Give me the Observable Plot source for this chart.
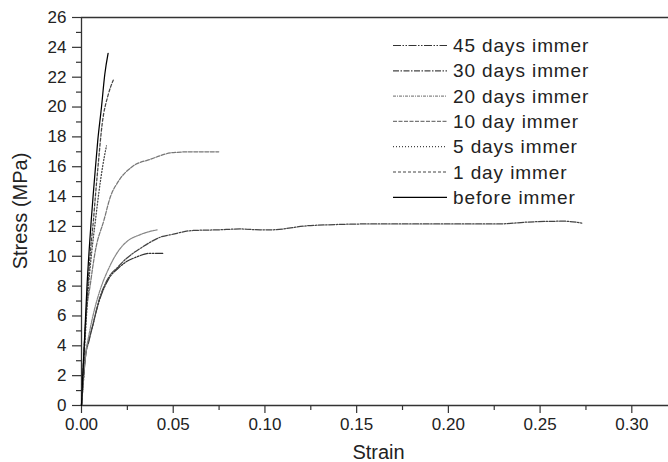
<!DOCTYPE html>
<html>
<head>
<meta charset="utf-8">
<script src="https://cdn.jsdelivr.net/npm/d3@7"></script>
<script src="https://cdn.jsdelivr.net/npm/@observablehq/plot@0.6"></script>
<style>
  html, body { margin: 0; padding: 0; background: #fff; }
  #chart { width: 668px; height: 462px; }
  svg { font-family: "Liberation Sans", Arial, sans-serif; }
</style>
</head>
<body>
<div id="chart"></div>
<script>
// ---- data ----
const seriesNames = ["45 days immer", "30 days immer", "20 days immer", "10 day immer", "5 days immer", "1 day immer", "before immer"];

const strainBefore = [0, 0.0005, 0.0015, 0.003, 0.0045, 0.0053, 0.0063, 0.0073, 0.0089, 0.0109, 0.0127, 0.0145];
const stressBefore = [0, 1.5, 4, 8, 11, 12.4, 14, 15.5, 17.8, 20, 22.2, 23.6];

const strain1d = [0, 0.0008, 0.002, 0.0035, 0.005, 0.0065, 0.0077, 0.009, 0.0113, 0.0145, 0.0173];
const stress1d = [0, 2, 5, 8, 10.5, 12.4, 14.2, 16, 18.9, 20.8, 21.8];

const strain5d = [0, 0.0008, 0.002, 0.0035, 0.0055, 0.0076, 0.0095, 0.0115, 0.0136];
const stress5d = [0, 2, 4.5, 7.5, 10.2, 12.4, 14.3, 16, 17.4];

const strain10d = [0, 0.001, 0.0022, 0.0049, 0.0076, 0.0122, 0.0158, 0.020, 0.0276, 0.0376, 0.05, 0.06, 0.0748];
const stress10d = [0, 2.8, 5.5, 8.2, 10.4, 12.4, 14, 15, 16, 16.5, 16.95, 17.0, 17.0];

const strain20d = [0, 0.001, 0.0025, 0.0045, 0.007, 0.0103, 0.0149, 0.0203, 0.0249, 0.032, 0.0412];
const stress20d = [0, 1.8, 3.6, 5.0, 6.4, 7.8, 9.2, 10.39, 11.0, 11.45, 11.77];

const strain30d = [0, 0.001, 0.0022, 0.004, 0.0058, 0.0094, 0.0149, 0.02, 0.024, 0.033, 0.0376, 0.043, 0.0508, 0.054, 0.061, 0.074, 0.0866, 0.0975, 0.103, 0.125, 0.161, 0.228, 0.243, 0.263, 0.2727];
const stress30d = [0, 1.6, 3.4, 4.4, 5.2, 7.0, 8.6, 9.3, 9.8, 10.6, 10.95, 11.28, 11.5, 11.6, 11.73, 11.77, 11.83, 11.77, 11.77, 12.06, 12.17, 12.17, 12.29, 12.35, 12.22];

const strain45d = [0, 0.001, 0.0022, 0.004, 0.0058, 0.0094, 0.0149, 0.02, 0.024, 0.03, 0.037, 0.0443];
const stress45d = [0, 1.6, 3.3, 4.3, 5.2, 6.9, 8.5, 9.2, 9.6, 9.95, 10.2, 10.2];

const xTicks = [0, 0.05, 0.10, 0.15, 0.20, 0.25, 0.30];
const xMinorTicks = [0.025, 0.075, 0.125, 0.175, 0.225, 0.275];
const yTicks = [0, 2, 4, 6, 8, 10, 12, 14, 16, 18, 20, 22, 24, 26];
const yMinorTicks = [1, 3, 5, 7, 9, 11, 13, 15, 17, 19, 21, 23, 25];

// ---- styles ----
const styles = {
  "45 days immer": {stroke: "#333", dash: "8,1.5,1.5,1.5,1.5,1.5"},
  "30 days immer": {stroke: "#444", dash: "6,1.5,1.5,1.5"},
  "20 days immer": {stroke: "#888", dash: "3,1,1,1"},
  "10 day immer":  {stroke: "#777", dash: "4,1.5"},
  "5 days immer":  {stroke: "#444", dash: "1,2"},
  "1 day immer":   {stroke: "#444", dash: "3,2"},
  "before immer":  {stroke: "#000", dash: null}
};

const pairs = [
  ["45 days immer", strain45d, stress45d],
  ["30 days immer", strain30d, stress30d],
  ["20 days immer", strain20d, stress20d],
  ["10 day immer", strain10d, stress10d],
  ["5 days immer", strain5d, stress5d],
  ["1 day immer", strain1d, stress1d],
  ["before immer", strainBefore, stressBefore]
];
const tables = pairs.map(([name, xs, ys]) => ({name, rows: xs.map((x, i) => ({strain: x, stress: ys[i]}))}));

const lineMarks = tables.map(t => Plot.line(t.rows, {
  x: "strain", y: "stress", curve: "monotone-x",
  stroke: styles[t.name].stroke, strokeWidth: 1.25,
  strokeDasharray: styles[t.name].dash || undefined
}));

const W = 668, H = 462, ML = 81, MT = 17, MB = 57, MR = 0;

const chart = Plot.plot({
  width: W, height: H,
  marginLeft: ML, marginTop: MT, marginBottom: MB, marginRight: MR,
  style: {fontFamily: "'Liberation Sans', Arial, sans-serif", fontSize: "17px", color: "#222", background: "#fff", overflow: "visible"},
  x: {domain: [0, 0.32]},
  y: {domain: [0, 26]},
  marks: [
    Plot.axisX({ticks: xTicks, tickFormat: d3.format(".2f"), tickSize: 8, tickPadding: 4, label: null, fontSize: 17, stroke: "#333", strokeWidth: 1.2}),
    Plot.axisX({ticks: xMinorTicks, text: null, tickSize: 5, label: null, stroke: "#333", strokeWidth: 1.2}),
    Plot.axisY({ticks: yTicks, tickSize: 9, tickPadding: 6, label: null, fontSize: 17, stroke: "#333", strokeWidth: 1.2}),
    Plot.axisY({ticks: yMinorTicks, text: null, tickSize: 5, label: null, stroke: "#333", strokeWidth: 1.2}),
    Plot.ruleY([0], {stroke: "#333", strokeWidth: 1.3}),
    Plot.ruleY([26], {stroke: "#333", strokeWidth: 1.3}),
    Plot.ruleX([0], {stroke: "#333", strokeWidth: 1.3}),
    ...lineMarks
  ]
});

document.getElementById("chart").appendChild(chart);

// ---- axis titles and legend ----
const svg = d3.select(chart);
svg.append("text")
  .attr("transform", `translate(27,${MT + (H - MT - MB) / 2}) rotate(-90)`)
  .attr("text-anchor", "middle")
  .attr("font-size", 20).attr("fill", "#222")
  .text("Stress (MPa)");
svg.append("text")
  .attr("x", ML + (W - ML - MR) / 2 + 4).attr("y", 459)
  .attr("text-anchor", "middle")
  .attr("font-size", 20).attr("fill", "#222")
  .text("Strain");

const leg = svg.append("g").attr("text-anchor", "start");
seriesNames.forEach((name, i) => {
  const y = 45.5 + i * 25.3;
  const st = styles[name];
  leg.append("line").attr("x1", 393).attr("x2", 447).attr("y1", y).attr("y2", y)
    .attr("stroke", st.stroke).attr("stroke-width", 1.2)
    .attr("stroke-dasharray", st.dash);
  leg.append("text").attr("x", 453).attr("y", y).attr("dy", "0.35em")
    .attr("text-anchor", "start")
    .attr("font-size", 19).attr("letter-spacing", "0.9px").attr("fill", "#222")
    .text(name);
});
</script>
</body>
</html>
